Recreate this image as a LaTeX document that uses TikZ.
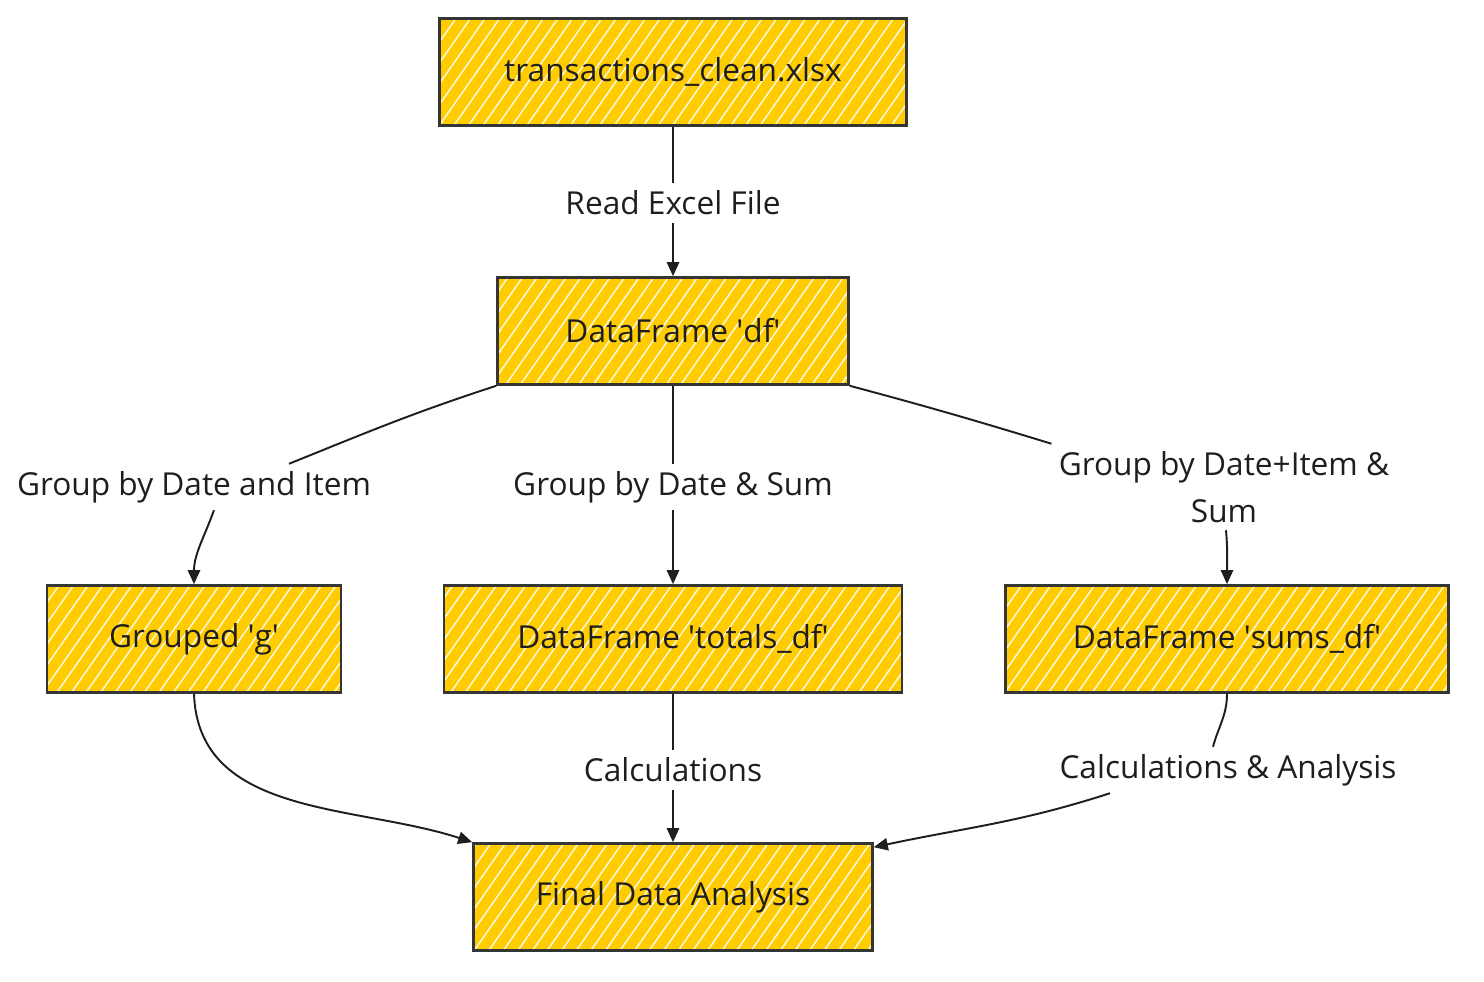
\documentclass[tikz,border=0pt]{standalone}
\usepackage{fontspec}
\setmainfont{Open Sans}
\usepackage{xcolor}
\usetikzlibrary{arrows.meta,patterns.meta}

\definecolor{boxfill}{HTML}{FFCC00}
\definecolor{hatch}{HTML}{FFF6D8}
\definecolor{ink}{HTML}{1E1E1E}

\tikzset{
  box/.style={preaction={fill=boxfill}, pattern={Lines[angle=55,distance=6.8pt,line width=0.9pt]}, pattern color=hatch,
    draw=ink!90, line width=1.5pt, minimum height=2.14cm, text=ink, font=\fontsize{18}{22}\selectfont},
  lbl/.style={text=ink, inner sep=4pt, align=center, font=\fontsize{18}{27}\selectfont},
  link/.style={draw=ink, line width=1.1pt},
  arr/.style={link, -{Triangle[length=8pt,width=7pt]}},
}

\begin{document}
\begin{tikzpicture}[x=0.02cm, y=-0.02cm]
            \useasboundingbox (0,0) rectangle (1484,982);
            % Boxes
            \node[box, minimum width=9.34cm] (xlsx) at (673,72) {transactions\_clean.xlsx};
            \node[box, minimum width=7.02cm] (df) at (673,331) {DataFrame \textquotesingle df\textquotesingle};
            \node[box, minimum width=5.88cm] (g) at (194,639) {Grouped \textquotesingle g\textquotesingle};
            \node[box, minimum width=9.16cm] (tot) at (673,639) {DataFrame \textquotesingle totals\_df\textquotesingle};
            \node[box, minimum width=8.86cm] (sums) at (1227,639) {DataFrame \textquotesingle sums\_df\textquotesingle};
            \node[box, minimum width=7.98cm] (fin) at (673,897) {Final Data Analysis};
            % Labels
            \node[lbl] (rd) at (673,203) {Read Excel File};
            \node[lbl] (gdi) at (194,487) {Group by Date and Item};
            \node[lbl] (gds) at (673,487) {Group by Date \& Sum};
            \node[lbl] (gdis) at (1224,487) {Group by Date+Item \&\\Sum};
            \node[lbl] (calc) at (673,770) {Calculations};
            \node[lbl] (cana) at (1228,770) {Calculations \& Analysis};
            % Read
            \draw[link] (xlsx) -- (rd);
            \draw[arr] (rd) -- (df);
            % Grouping
            \draw[link] (df.south west) to[out=198,in=22] ([xshift=1.9cm]gdi.north);
            \draw[arr] ([xshift=0.4cm]gdi.south) to[out=-110,in=90] (g.north);
            \draw[link] (df) -- (gds);
            \draw[arr] (gds) -- (tot);
            \draw[link] (df.south east) to[out=-15,in=163] (gdis.north west);
            \draw[arr] ([xshift=0.04cm]gdis.south) to[out=-85,in=90] (sums.north);
            % Analysis
            \draw[arr] (g.south) to[out=-88,in=162] (fin.north west);
            \draw[link] (tot) -- (calc);
            \draw[arr] (calc) -- (fin);
            \draw[link] (sums.south) to[out=-90,in=75] ([xshift=-0.3cm]cana.north);
            \draw[arr] ([xshift=-2.36cm]cana.south) to[out=198,in=12] ([yshift=-0.1cm]fin.north east);
        \end{tikzpicture}
\end{document}
